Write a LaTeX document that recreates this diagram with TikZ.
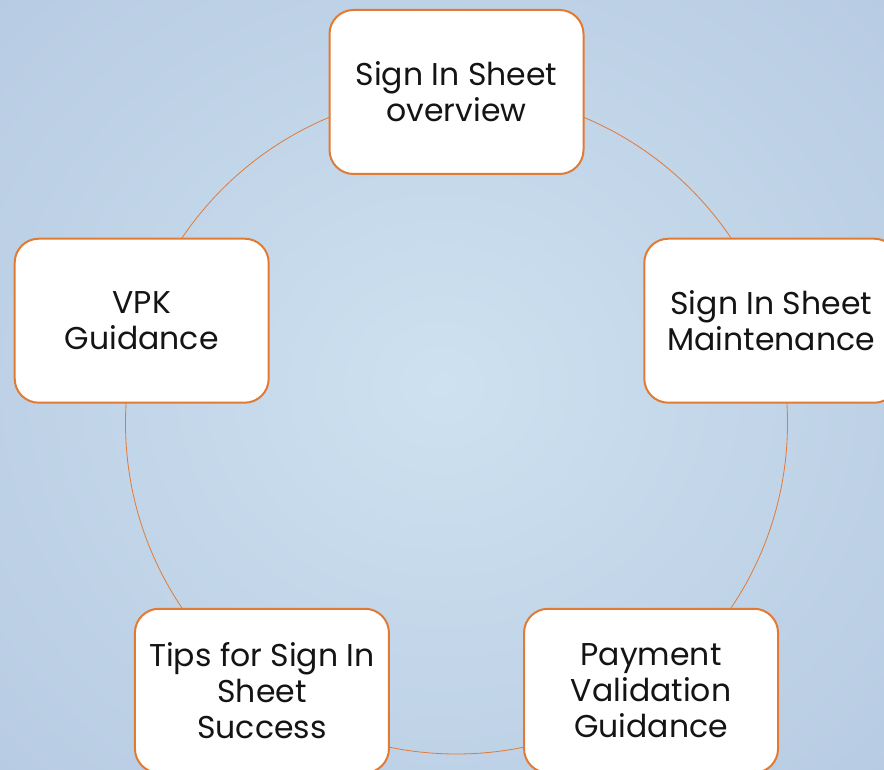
\documentclass[tikz,border=0pt]{standalone}
\usepackage{fontspec}
\setmainfont{Poppins}
\definecolor{ringorange}{RGB}{226,122,52}
\definecolor{bgcentre}{RGB}{206,225,240}
\definecolor{bgedge}{RGB}{182,202,226}
\definecolor{inktext}{RGB}{20,20,20}
\tikzset{
  topic/.style={draw=ringorange, line width=2pt, fill=white,
    rounded corners=24pt, minimum width=254pt, minimum height=164pt,
    align=center, text=inktext, font=\fontsize{31.5}{36}\selectfont},
  ring/.style={draw=ringorange, line width=0.8pt}
}
\begin{document}
\begin{tikzpicture}[x=1pt,y=1pt]
	\useasboundingbox (0,0) rectangle (884,770);
	\shade[inner color=bgcentre, outer color=bgedge] (-200,-200) rectangle (1084,970);
	\clip (0,0) rectangle (884,770);
	
	\coordinate (hub) at (456.5,347);
	\draw[ring] (hub) circle (331pt);
	
	\node[topic] (overview) at ([shift={(90:331)}]hub) {Sign In Sheet\\overview};
	\node[topic] (maint) at ([shift={(18:331)}]hub) {Sign In Sheet\\Maintenance};
	\node[topic] (payment) at ([shift={(-54:331)}]hub) {Payment\\Validation\\Guidance};
	\node[topic] (tips) at ([shift={(-126:331)}]hub) {Tips for Sign In\\Sheet\\Success};
	\node[topic] (vpk) at ([shift={(162:331)}]hub) {VPK\\Guidance};
\end{tikzpicture}
\end{document}
